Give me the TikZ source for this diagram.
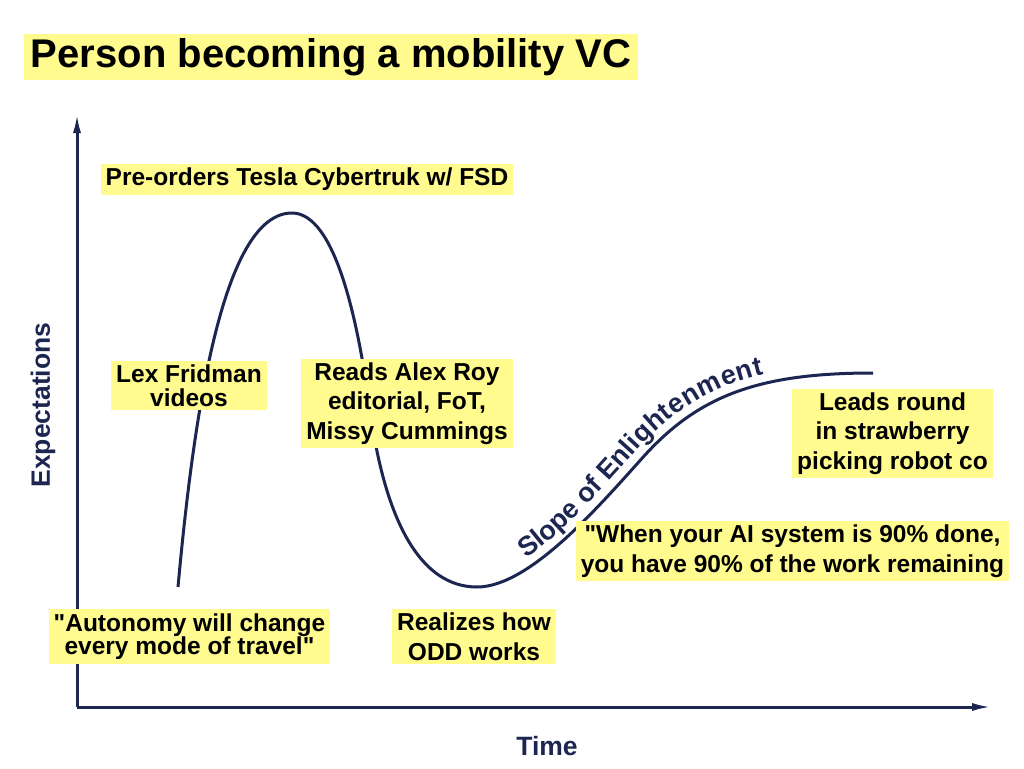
\documentclass[tikz,border=0pt]{standalone}
\usepackage{fontspec}
\setmainfont[Ligatures=TeXOff]{Liberation Sans}
\usetikzlibrary{arrows.meta,decorations.text}
\definecolor{navy}{RGB}{28,38,80}
\definecolor{hiyellow}{RGB}{255,251,143}

\begin{document}
\begin{tikzpicture}[x=1pt, y=-1pt, >={Latex[length=20pt,width=8pt]},
  notebox/.style={fill=hiyellow, inner xsep=5pt, inner ysep=4pt, align=center,
    font=\fontsize{24.5}{29.5}\selectfont\bfseries},
  axislabel/.style={text=navy, font=\fontsize{26.5}{30}\selectfont\bfseries}]
  \useasboundingbox[fill=white] (0,0) rectangle (1024,768);

  \node[notebox, inner xsep=6.5pt, font=\fontsize{40}{46}\selectfont\bfseries] (title) at (331,57) {Person becoming a mobility VC};

  % axes
  \coordinate (origin) at (77,707);
  \coordinate (ytop) at (77,113);
  \coordinate (xend) at (992,707);
  \draw[->, line width=3pt, navy] (origin) -- (ytop);
  \draw[->, line width=3pt, navy] (origin) -- (xend);
  \node[axislabel, rotate=90] (expect) at (43,405) {Expectations};
  \node[axislabel] (time) at (547,746) {Time};

  % hype curve
  \draw[line width=3pt, navy] (178,587) .. controls (195,400) and (225,213) .. (292,213)
    .. controls (335,213) and (358,320) .. (370,410)
    .. controls (385,520) and (420,587) .. (477,587)
    .. controls (530,587) and (600,505) .. (645,455)
    .. controls (700,395) and (760,373) .. (873,373);
  \path[decorate, decoration={text along path, text format delimiters={|}{|},
      text={|\fontsize{27}{30}\selectfont\bfseries\color{navy}|Slope of Enlightenment},
      text align={left indent=60pt}, raise=9pt}]
    (477,587) .. controls (530,587) and (600,505) .. (645,455)
    .. controls (700,395) and (760,373) .. (873,373);

  % notes
  \node[notebox] (preorder) at (307,179.5) {Pre-orders Tesla Cybertruk w/ FSD};
  \node[notebox, font=\fontsize{24.5}{23.5}\selectfont\bfseries] (lex) at (189,385.5) {Lex Fridman\\videos};
  \node[notebox] (reads) at (407,403.5) {Reads Alex Roy\\editorial, FoT,\\Missy Cummings};
  \node[notebox, font=\fontsize{24.5}{23.5}\selectfont\bfseries] (autonomy) at (189.5,636.5) {"Autonomy will change\\every mode of travel"};
  \node[notebox] (realizes) at (474,636.5) {Realizes how\\ODD works};
  \node[notebox] (ninety) at (792.5,551) {"When your AI system is 90\% done,\\you have 90\% of the work remaining};
  \node[notebox] (leads) at (892.5,433.5) {Leads round\\in strawberry\\picking robot co};
\end{tikzpicture}
\end{document}
